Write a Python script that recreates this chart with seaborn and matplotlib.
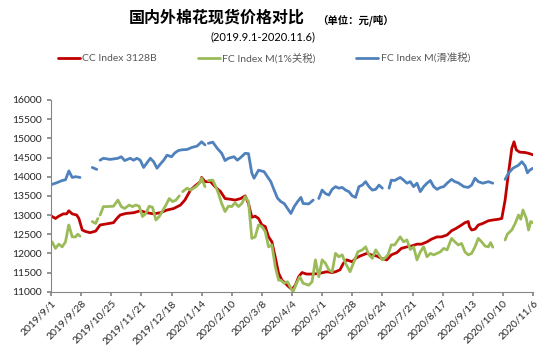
import numpy as np
import pandas as pd
import matplotlib.pyplot as plt
import seaborn as sns

# days counted from 2019/9/1, None = no quote (gap in the line)
start = pd.Timestamp('2019-09-01')

cc_days = [0, 4, 7, 11, 14, 16, 19, 23, 25, 28, 31, 35, 40, 44, 50, 56, 59, 62, 67, 74,
           80, 86, 92, 98, 104, 110, 116, 120, 125, 130, 134, 135, 138, 143, 147, 152, 156, 161, 165, 170,
           174, 177, 180, 183, 186, 189, 192, 195, 198, 201, 204, 207, 210, 213, 216, 219, 222, 225, 229, 235,
           241, 247, 252, 255, 259, 262, 265, 270, 273, 277, 283, 287, 292, 296, 301, 305, 310, 314, 319, 323,
           328, 332, 337, 341, 346, 350, 355, 359, 363, 368, 371, 374, 375, 377, 380, 383, 387, 392, 396, 401,
           404, 407, 410, 413, 415, 417, 420, 425, 428, 432]
cc_vals = [12980, 12910, 12970, 13030, 13030, 13110, 13030, 13000, 12910, 12610, 12570, 12540, 12580, 12740, 12770, 12800, 12910, 13000, 13040, 13060,
           13110, 13060, 13030, 13060, 13130, 13170, 13260, 13390, 13650, 13780, 13870, 13980, 13870, 13870, 13740, 13610, 13430, 13410, 13390, 13430,
           13500, 13300, 12940, 12970, 12910, 12740, 12700, 12430, 12300, 11900, 11480, 11300, 11220, 11130, 11060, 11170, 11390, 11500, 11460, 11460,
           11480, 11520, 11500, 11520, 11570, 11740, 11830, 11780, 11870, 11930, 12000, 11960, 11930, 11870, 11830, 11960, 12020, 12130, 12170, 12190,
           12240, 12240, 12300, 12370, 12430, 12430, 12480, 12590, 12650, 12740, 12800, 12830, 12700, 12610, 12630, 12740, 12780, 12850, 12870, 12890,
           12910, 13390, 14090, 14740, 14910, 14700, 14640, 14630, 14610, 14570]

fc1_days = [1, 4, 7, 10, 13, 15, 16, 19, 22, 24, 26, None,
            37, 40, 42, None,
            44, 47, 50, 56, 60, 63, 66, 70, 73, 76, 79, 82, 85, 88, 91, 94, 97, 100, 103, 106, 109, 112, 115, None,
            118, 122, 125, 130, 133, 135, 138, None,
            141, 145, 149, 153, 156, 159, 162, 165, 168, 171, 174, 177, 180, 183, 186, 189, 192, 195, 198, 201,
            204, 206, 209, 212, 215, 217, 220, 223, 226, 231, 234, 237, 240, 243, 246, 249, 252, 255, 258, 261,
            264, 268, 271, 275, 279, 282, 285, 288, 291, 294, 297, 299,
            302, 305, 308, 313, 316, 319, 322, 325, 328, 331, 334, 337, 340, 343, 346, 349, 352, 355, 359, 362,
            365, 368, 371, 374, 377, 380, 383, 386, 389, 392, 394, 396, None,
            407, 409, 413, 416, 419, 421, 423, 426, 428, 430, 432]
fc1_vals = [12300, 12130, 12240, 12170, 12300, 12610, 12740, 12430, 12430, 12500, 12450, None,
            12830, 12780, 12910, None,
            13000, 13220, 13220, 13230, 13390, 13220, 13170, 13260, 13220, 13260, 13230, 12960, 13040, 13230, 13200, 12870, 12960, 13110, 13260, 13430, 13350, 13390, 13500, None,
            13610, 13700, 13650, 13740, 13830, 13960, 13740, None,
            13900, 13910, 13650, 13300, 13090, 13230, 13220, 13320, 13220, 13300, 13480, 13350, 12390, 12430, 12740, 12700, 12570, 12170, 12220, 11650,
            11300, 11300, 11220, 11260, 11090, 11000, 11220, 11390, 11220, 11170, 11260, 11830, 11390, 11830, 11740, 11570, 11520, 12000, 11910, 11960,
            11740, 11520, 11740, 12040, 12090, 12170, 11960, 11870, 12090, 11960, 11830, 11870,
            11960, 12220, 12220, 12430, 12300, 12350, 12100, 12170, 11830, 12040, 12170, 11910, 12000, 11960, 12000, 12040, 12130, 12090, 12390, 12300,
            12220, 12260, 12040, 11960, 12000, 12170, 12390, 12300, 12190, 12170, 12280, 12160, None,
            12350, 12500, 12610, 12780, 13000, 12890, 13130, 12910, 12610, 12830, 12800]

fc2_days = [1, 5, 10, 13, 16, 19, 22, 26, None,
            37, 41, None,
            44, 47, 53, 60, 63, 66, 71, 74, 77, 80, 83, 86, 89, 92, 95, 98, 101, 104, 108, 111, 114, 117, 122, 126,
            131, 135, 138, None,
            141, 145, 149, 153, 156, 159, 164, 167, 170, 174, 177, 180, 182, 186, 191, 194, 197, 200, 203, 206,
            209, 212, 215, 218, 221, 224, 226, 231, 235, None,
            240, 243, 246, 249, 252, 255, 258, 261, 264, 267, 270, 273, 276, 279, 282, 285, 288, 291, 294, 297, None,
            303, 305, 308, 313, 316, 319, 322, 325, 328, 331, 334, 337, 340, 343, 346, 349, 352, 355, 359, 362,
            365, 370, 374, 377, 380, 383, 387, 392, 396, None,
            407, 410, 414, 419, 422, 425, 427, 429, 432]
fc2_vals = [13800, 13840, 13900, 13920, 14150, 13980, 14000, 13980, None,
            14240, 14190, None,
            14430, 14480, 14450, 14480, 14520, 14420, 14480, 14430, 14480, 14430, 14240, 14360, 14480, 14390, 14220, 14330, 14430, 14560, 14520, 14620, 14680, 14700, 14710, 14760,
            14800, 14910, 14830, None,
            14870, 14900, 14740, 14610, 14420, 14480, 14520, 14430, 14500, 14610, 14600, 14090, 13960, 14170, 14130, 14000, 13870, 13650, 13440, 13350,
            13300, 13170, 13040, 13220, 13350, 13460, 13300, 13290, 13390, None,
            13430, 13650, 13560, 13520, 13670, 13740, 13700, 13720, 13650, 13610, 13500, 13460, 13740, 13780, 13870, 13740, 13650, 13670, 13780, 13700, None,
            13700, 13910, 13900, 13980, 13910, 13830, 13870, 13740, 13830, 13610, 13740, 13830, 13900, 13740, 13670, 13720, 13740, 13830, 13930, 13870,
            13840, 13740, 13720, 13780, 13960, 13870, 13830, 13870, 13830, None,
            13930, 14090, 14220, 14300, 14390, 14280, 14100, 14170, 14220]

series = [
    ('CC Index 3128B', cc_days, cc_vals, '#C00000'),
    ('FC Index M(1%关税)', fc1_days, fc1_vals, '#9BBB59'),
    ('FC Index M(滑准税)', fc2_days, fc2_vals, '#4F81BD'),
]

tick_days = list(range(0, 433, 27))
tick_dates = [start + pd.Timedelta(days=d) for d in tick_days]
tick_labels = [f'{d.year}/{d.month}/{d.day}' for d in tick_dates]

sns.set_theme(style='white')
plt.rcParams['font.family'] = ['Lato', 'Noto Sans CJK SC', 'DejaVu Sans']

fig = plt.figure(figsize=(5.54, 3.64), dpi=100)
ax = fig.add_axes([51 / 554, 1 - 291.7 / 364, 482 / 554, 191.7 / 364])


def segments(days, vals):
    seg_d, seg_v = [], []
    for d, v in zip(days, vals):
        if d is None:
            if seg_d:
                yield seg_d, seg_v
            seg_d, seg_v = [], []
        else:
            seg_d.append(d)
            seg_v.append(v)
    if seg_d:
        yield seg_d, seg_v


for name, days, vals, color in series:
    first = True
    for sd, sv in segments(days, vals):
        df = pd.DataFrame({'date': [start + pd.Timedelta(days=d) for d in sd], 'price': sv})
        sns.lineplot(data=df, x='date', y='price', ax=ax, color=color, linewidth=2,
                     label=name if first else None, legend=False)
        first = False

ax.set_xlim(tick_dates[0], tick_dates[-1])
ax.set_ylim(11000, 16000)
ax.set_yticks(range(11000, 16001, 500))
ax.set_xticks(tick_dates)
ax.set_xticklabels(tick_labels, rotation=45, ha='right', rotation_mode='anchor', fontsize=7.5, color='#262626')
ax.tick_params(axis='y', labelsize=7.5, labelcolor='#262626', length=3, color='#868686', direction='out', left=True)
ax.tick_params(axis='x', length=3, color='#868686', direction='out', bottom=True, pad=2)
ax.set_xlabel('')
ax.set_ylabel('')
for s in ['top', 'right']:
    ax.spines[s].set_visible(False)
for s in ['left', 'bottom']:
    ax.spines[s].set_color('#868686')
    ax.spines[s].set_linewidth(0.8)

fig.text(217 / 554, 1 - 18 / 364, '国内外棉花现货价格对比', ha='center', va='center',
         fontsize=11.5, fontweight='bold', family=['Noto Sans CJK SC'], color='black')
fig.text(355 / 554, 1 - 20 / 364, '（单位：元/吨）', ha='center', va='center',
         fontsize=7.5, fontweight='bold', family=['Noto Sans CJK SC'], color='black')
fig.text(263 / 554, 1 - 37 / 364, '(2019.9.1-2020.11.6)', ha='center', va='center',
         fontsize=8, color='black')

handles, labels = ax.get_legend_handles_labels()
leg = fig.legend(handles, labels, loc='center', bbox_to_anchor=(264 / 554, 1 - 58 / 364), ncol=3,
                 frameon=False, fontsize=7.5, handlelength=2.1, handletextpad=0.25,
                 columnspacing=3.9, labelcolor='#595959')

plt.savefig('out.png', dpi=100)
